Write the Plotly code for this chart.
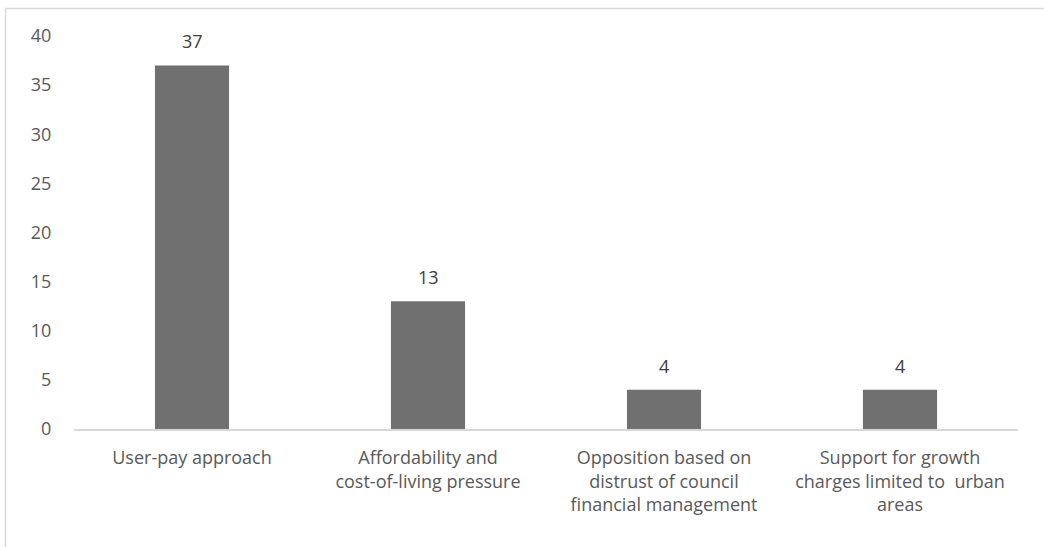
import plotly.graph_objects as go

categories = [
    "User-pay approach",
    "Affordability and<br>cost-of-living pressure",
    "Opposition based on<br>distrust of council<br>financial management",
    "Support for growth<br>charges limited to  urban<br>areas",
]
counts = [37, 13, 4, 4]
y_ticks = [0, 5, 10, 15, 20, 25, 30, 35, 40]

W, H = 1044, 547
L, R, T, B = 74, 26, 36, 118
pw, ph = W - L - R, H - T - B

text_color = "#595959"
font_family = "Open Sans, Liberation Sans, sans-serif"

fig = go.Figure(
    go.Bar(
        x=categories,
        y=counts,
        marker=dict(color="#707070", line=dict(width=0)),
        width=0.314,
        hoverinfo="x+y",
    )
)

# value labels above each bar
for cat, val in zip(categories, counts):
    fig.add_annotation(
        x=cat, y=val, text=str(val), showarrow=False,
        yanchor="bottom", yshift=10,
        font=dict(size=18, color="#404040", family=font_family),
    )

# chart-area border (left and top edges visible)
border = dict(type="line", xref="paper", yref="paper", line=dict(color="#d9d9d9", width=1.5))
top_y = 1 + (T - 8.5) / ph
left_x = (5.5 - L) / pw
fig.add_shape(**border, x0=left_x, x1=left_x, y0=top_y, y1=-(B + 5) / ph)
fig.add_shape(**border, x0=left_x, x1=(W + 5 - L) / pw, y0=top_y, y1=top_y)

fig.update_layout(
    width=W,
    height=H,
    margin=dict(l=L, r=R, t=T, b=B),
    paper_bgcolor="white",
    plot_bgcolor="white",
    showlegend=False,
    font=dict(family=font_family, size=18, color=text_color),
    xaxis=dict(
        showline=True,
        linecolor="#d9d9d9",
        linewidth=1.5,
        ticks="",
        ticklabelstandoff=12,
        tickfont=dict(size=18, color=text_color),
        showgrid=False,
    ),
    yaxis=dict(
        range=[0, 40],
        tickvals=y_ticks,
        showgrid=False,
        showline=False,
        zeroline=False,
        ticks="outside",
        ticklen=18,
        tickcolor="rgba(0,0,0,0)",
        tickfont=dict(size=18, color=text_color),
    ),
)

fig.write_html("out.html")
